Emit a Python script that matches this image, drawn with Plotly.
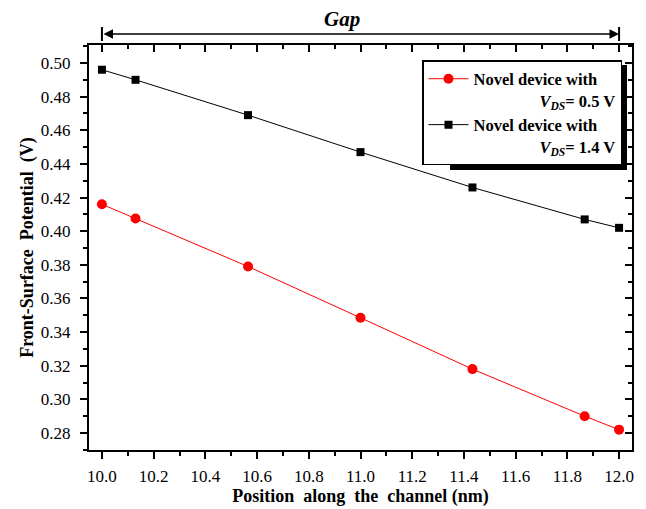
import plotly.graph_objects as go

positions = [10.0, 10.13, 10.565, 11.0, 11.433, 11.867, 12.0]
vds_05 = [0.416, 0.4075, 0.379, 0.3485, 0.318, 0.290, 0.282]
vds_14 = [0.496, 0.490, 0.469, 0.447, 0.426, 0.407, 0.402]
pad = "&nbsp;" * 16
names = ["Novel device with<br>" + pad + "<i>V<sub>DS</sub></i>= 0.5 V",
         "Novel device with<br>" + pad + "<i>V<sub>DS</sub></i>= 1.4 V"]

FONT = "Liberation Serif, Times New Roman, serif"
xr = [9.95, 12.05]
yr = [0.2699, 0.5107]

# page offset (body margin) compensation: page = figure + 8
OFF = 8
PL, PR, PT, PB = 89, 632, 45, 450          # plot area in page pixels
W, H = 646 - OFF, 509 - OFF
PW, PH = PR - PL, PB - PT


def px(xp):
    return (xp - PL) / PW


def py(yp):
    return (PB - yp) / PH


fig = go.Figure()
fig.add_trace(go.Scatter(x=positions, y=vds_05, mode="lines+markers", name=names[0],
                         line=dict(color="#ff0000", width=1),
                         marker=dict(symbol="circle", size=10, color="#ff0000")))
fig.add_trace(go.Scatter(x=positions, y=vds_14, mode="lines+markers", name=names[1],
                         line=dict(color="#000000", width=1),
                         marker=dict(symbol="square", size=8, color="#000000")))

tickfont = dict(family=FONT, size=17, color="black")
titlefont = dict(family=FONT, size=18, color="black", weight="bold")

common = dict(showline=True, linewidth=2, linecolor="black", showgrid=False,
              zeroline=False, automargin=False, tickwidth=1.5, tickcolor="black", ticklen=7)

fig.update_layout(
    width=W, height=H,
    margin=dict(l=PL - OFF, r=W - (PR - OFF), t=PT - OFF, b=H - (PB - OFF), autoexpand=False),
    paper_bgcolor="white", plot_bgcolor="white",
    font=dict(family=FONT, color="black"),
    xaxis=dict(range=xr, dtick=0.2, tick0=10.0, tickformat=".1f", ticks="outside",
               minor=dict(dtick=0.1, ticks="outside", ticklen=4, tickwidth=1.5, tickcolor="black"),
               tickfont=tickfont, ticklabelstandoff=3,
               title=dict(text="Position  along  the  channel (nm)", font=titlefont, standoff=3),
               **common),
    yaxis=dict(range=yr, dtick=0.02, tick0=0.28, tickformat=".2f", ticks="outside",
               minor=dict(dtick=0.01, ticks="outside", ticklen=4, tickwidth=1.5, tickcolor="black"),
               tickfont=tickfont, ticklabelstandoff=6,
               title=dict(text="Front-Surface  Potential  (V)", font=titlefont, standoff=3),
               **common),
    xaxis2=dict(range=xr, overlaying="x", side="top", matches="x", dtick=0.2, tick0=10.0,
                ticks="inside",
                minor=dict(dtick=0.1, ticks="inside", ticklen=4, tickwidth=1.5, tickcolor="black"),
                showticklabels=False, **common),
    yaxis2=dict(range=yr, overlaying="y", side="right", matches="y", dtick=0.02, tick0=0.28,
                ticks="inside",
                minor=dict(dtick=0.01, ticks="inside", ticklen=4, tickwidth=1.5, tickcolor="black"),
                showticklabels=False, **common),
    legend=dict(x=px(622), y=py(60), xanchor="right", yanchor="top",
                bgcolor="white", bordercolor="black", borderwidth=1.5,
                font=dict(family=FONT, size=16.5, color="black", weight="bold"),
                valign="top", tracegroupgap=0, itemwidth=40),
    showlegend=True,
)

# hidden trace to activate secondary axes
fig.add_trace(go.Scatter(x=[positions[0]], y=[vds_05[0]], xaxis="x2", yaxis="y2",
                         mode="markers", marker=dict(opacity=0), showlegend=False, hoverinfo="skip"))

# legend shadow
fig.add_shape(type="rect", xref="paper", yref="paper",
              x0=px(450), x1=px(627), y0=py(170), y1=py(65),
              fillcolor="black", line=dict(width=0), layer="above")

# Gap arrow
fig.add_annotation(x=12.0, y=py(34), xref="x", yref="paper", ax=10.0, ay=0, axref="x", ayref="pixel",
                   showarrow=True, arrowhead=2, arrowside="end+start", arrowsize=1.2,
                   arrowwidth=1.6, arrowcolor="black", text="")
for xv in [10.0, 12.0]:
    fig.add_shape(type="line", xref="x", yref="paper", x0=xv, x1=xv,
                  y0=py(41), y1=py(27), line=dict(color="black", width=2))
fig.add_annotation(x=px(342), y=py(19), xref="paper", yref="paper",
                   xanchor="center", yanchor="middle",
                   text="<i>Gap</i>", showarrow=False,
                   font=dict(family=FONT, size=21, color="black", weight="bold"))

fig.write_html("out.html")
